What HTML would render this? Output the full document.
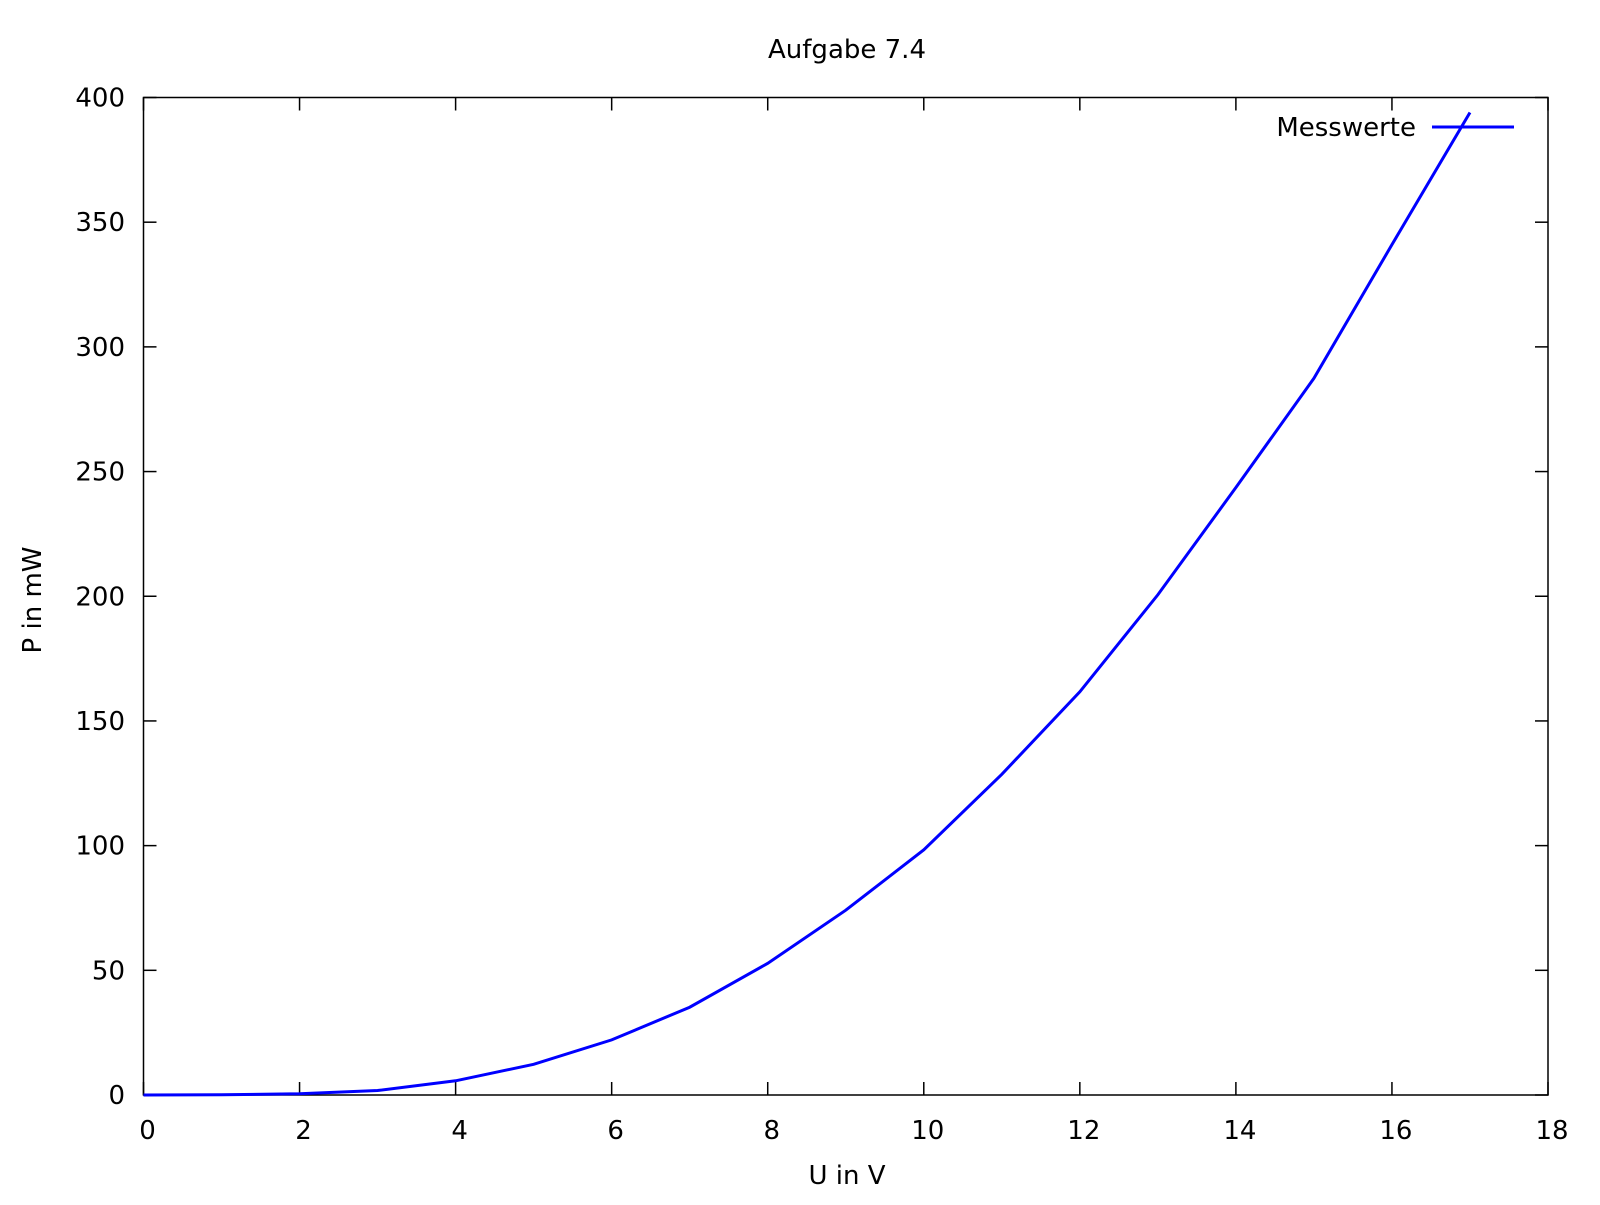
<!DOCTYPE html>
<html><head><meta charset="utf-8"><style>
body{margin:0;background:#fff}
svg text{font-family:"DejaVu Sans","Liberation Sans",sans-serif;font-size:26px;fill:#000}
</style></head><body>
<svg id="chart" width="1600" height="1200" xmlns="http://www.w3.org/2000/svg">
<text x="847" y="58" text-anchor="middle">Aufgabe 7.4</text>
<text x="847" y="1184" text-anchor="middle">U in V</text>
<text transform="translate(41,600) rotate(-90)" text-anchor="middle">P in mW</text>
<g id="ticks"></g>
<rect x="143.5" y="97.5" width="1404.5" height="997.5" fill="none" stroke="#000" stroke-width="1.5"/>
<g>
<text x="1416" y="136" text-anchor="end">Messwerte</text>
<line x1="1432" y1="127" x2="1514" y2="127" stroke="#0000ff" stroke-width="3"/>
</g>
<polyline id="series" fill="none" stroke="#0000ff" stroke-width="3"/>
</svg>
<script>
const xValues=[0,1,2,3,4,5,6,7,8,9,10,11,12,13,14,15,16,17];
const pValues=[0,0.1,0.5,1.8,5.7,12.3,22.1,35.2,52.8,74.1,98.3,128.6,161.7,200.6,243.6,287.4,341,394];
const xTicks=[0,2,4,6,8,10,12,14,16,18];
const yTicks=[0,50,100,150,200,250,300,350,400];
const L=143.5,R=1548,T=97.5,B=1095;
const sx=v=>L+(v-0)/(18-0)*(R-L);
const sy=v=>B-(v-0)/(400-0)*(B-T);
const NS="http://www.w3.org/2000/svg";
const g=document.getElementById('ticks');
function mk(tag,attrs){const e=document.createElementNS(NS,tag);for(const k in attrs)e.setAttribute(k,attrs[k]);return e;}
xTicks.forEach(v=>{
 const x=sx(v);
 const t1=mk('line',{x1:x,y1:B,x2:x,y2:B-13,stroke:'#000','stroke-width':1.5});
 
 
 g.appendChild(t1);
 const t2=mk('line',{x1:x,y1:T,x2:x,y2:T+13,stroke:'#000','stroke-width':1.5});
 
 
 g.appendChild(t2);
 const tx=mk('text',{x:x+4,y:1139,'text-anchor':'middle'});
 
 
 tx.textContent=v;g.appendChild(tx);
});
yTicks.forEach(v=>{
 const y=sy(v);
 const t1=mk('line',{x1:L,y1:y,x2:L+13,y2:y,stroke:'#000','stroke-width':1.5});
 
 
 g.appendChild(t1);
 const t2=mk('line',{x1:R,y1:y,x2:R-13,y2:y,stroke:'#000','stroke-width':1.5});
 
 
 g.appendChild(t2);
 const tx=mk('text',{x:125,y:y+9,'text-anchor':'end'});
 
 
 tx.textContent=v;g.appendChild(tx);
});
document.getElementById('series').setAttribute('points',xValues.map((x,i)=>sx(x)+','+sy(pValues[i])).join(' '));
</script>
</body></html>
